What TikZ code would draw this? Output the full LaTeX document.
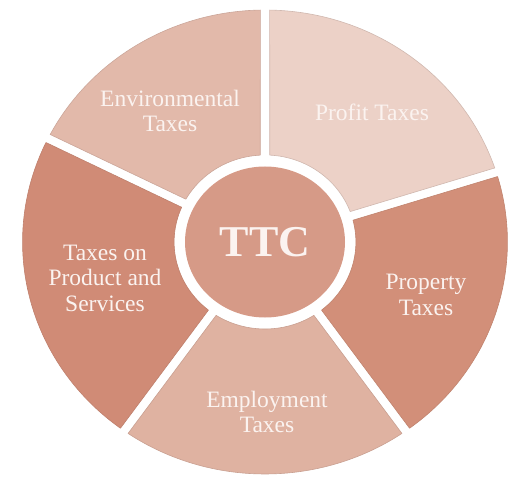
\documentclass[tikz,border=0pt]{standalone}
\usepackage{fontspec}
\setmainfont{Liberation Serif}
\usetikzlibrary{shapes.geometric}

\definecolor{proffill}{HTML}{ECD1C7}
\definecolor{envfill}{HTML}{E2B9AA}
\definecolor{prodfill}{HTML}{D08B76}
\definecolor{emplfill}{HTML}{DFB2A1}
\definecolor{propfill}{HTML}{D28F79}
\definecolor{hubfill}{HTML}{D69A87}
\definecolor{labeltext}{HTML}{FBF3F0}

\begin{document}
\begin{tikzpicture}[
	x=1pt,
	y=1pt,
	seg/.style={
		line width=0.6pt,
		line join=round
	},
	segtext/.style={
		align=center,
		text=labeltext,
		font=\fontsize{23.5}{25.5}\selectfont
	},
	hub/.style={
		ellipse,
		fill=hubfill,
		inner sep=0pt,
		minimum width=160pt,
		minimum height=151pt,
		text=labeltext,
		font=\fontsize{44}{44}\selectfont\bfseries
	},
]

\useasboundingbox (-265,-234) rectangle (248,242);

\begin{scope}[xscale=1.045]
\draw[seg, fill=proffill, draw=proffill!88!black] (20.47:87) -- (18.61:232) arc[start angle=18.61, end angle=88.89, radius=232] -- (87.03:87) arc[start angle=87.03, end angle=20.47, radius=87] -- cycle;
\draw[seg, fill=envfill, draw=envfill!90!black] (92.97:87) -- (91.11:232) arc[start angle=91.11, end angle=152.39, radius=232] -- (150.53:87) arc[start angle=150.53, end angle=92.97, radius=87] -- cycle;
\draw[seg, fill=prodfill, draw=prodfill!92!black] (156.47:87) -- (154.61:232) arc[start angle=154.61, end angle=233.39, radius=232] -- (231.53:87) arc[start angle=231.53, end angle=156.47, radius=87] -- cycle;
\draw[seg, fill=emplfill, draw=emplfill!90!black] (237.47:87) -- (235.61:232) arc[start angle=235.61, end angle=304.39, radius=232] -- (302.53:87) arc[start angle=302.53, end angle=237.47, radius=87] -- cycle;
\draw[seg, fill=propfill, draw=propfill!92!black] (308.47:87) -- (306.61:232) arc[start angle=306.61, end angle=376.39, radius=232] -- (374.53:87) arc[start angle=374.53, end angle=308.47, radius=87] -- cycle;
\end{scope}

\node[hub] (ttc) at (0,0) {TTC};

\node[segtext] (env) at (-95,131) {Environmental\\Taxes};
\node[segtext] (profit) at (107,130) {Profit Taxes};
\node[segtext] (product) at (-160,-36) {Taxes on\\Product and\\Services};
\node[segtext] (property) at (161,-53) {Property\\Taxes};
\node[segtext] (employment) at (2,-170) {Employment\\Taxes};

\end{tikzpicture}
\end{document}
